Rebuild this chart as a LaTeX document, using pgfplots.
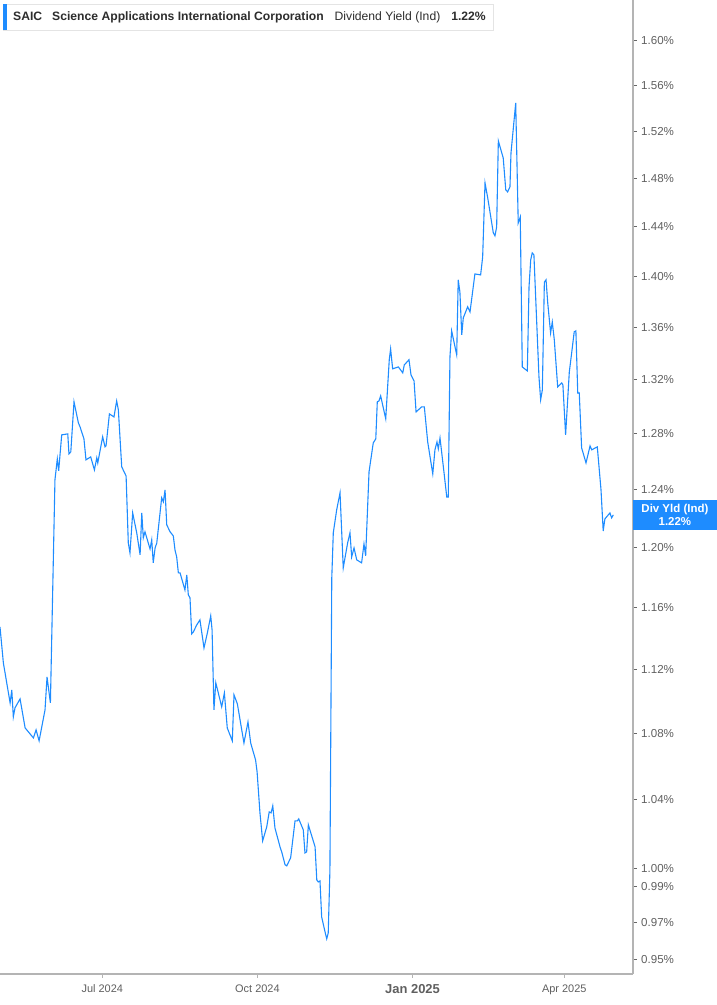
\documentclass[border=0pt]{standalone}
\usepackage{fontspec}
\setmainfont{Liberation Sans}
\usepackage{pgfplots}
\pgfplotsset{compat=1.18}
\definecolor{lineblue}{RGB}{30,140,255}
\definecolor{axgray}{RGB}{180,180,180}
\definecolor{labgray}{RGB}{95,95,95}
\definecolor{titlegray}{RGB}{45,45,45}
\definecolor{boxline}{RGB}{228,228,228}

\begin{document}
\begin{tikzpicture}
\useasboundingbox (0bp,0bp) rectangle (717bp,1005bp);
\begin{semilogyaxis}[
  at={(0bp,31bp)}, anchor=south west,
  scale only axis,
  width=632.7bp, height=974bp,
  xmin=-60.7, xmax=314.6,
  ymin=0.9421, ymax=1.6375,
  axis x line*=bottom, axis y line*=right,
  axis line style={axgray, line width=1.6bp},
  tick align=outside,
  major tick length=4bp,
  xtick={0,92,184,274},
  xticklabels={Jul 2024, Oct 2024, {\fontsize{13}{13}\selectfont\bfseries Jan 2025}, Apr 2025},
  xtick style={axgray, line width=1bp},
  x tick label style={font=\fontsize{11}{11}\selectfont, text=labgray, yshift=-3bp},
  ytick={0.95,0.97,0.99,1.00,1.04,1.08,1.12,1.16,1.20,1.24,1.28,1.32,1.36,1.40,1.44,1.48,1.52,1.56,1.60},
  yticklabels={0.95\%,0.97\%,0.99\%,1.00\%,1.04\%,1.08\%,1.12\%,1.16\%,1.20\%,1.24\%,1.28\%,1.32\%,1.36\%,1.40\%,1.44\%,1.48\%,1.52\%,1.56\%,1.60\%},
  yminorticks=false,
  ytick style={black!60, line width=0.8bp},
  y tick label style={font=\fontsize{11.6}{11.6}\selectfont, text=labgray, xshift=1bp},
  clip=false,
]
% SAIC dividend yield (indicated), x = days from 1 Jul 2024, y in percent
\addplot[color=lineblue, line width=1.1bp, mark=none] coordinates {
(-60.7,1.1472)(-58.7,1.1240)(-54.7,1.0988)(-53.7,1.1069)(-52.8,1.0901)(-51.8,1.0957)(-48.8,1.1013)(-45.8,1.0833)(-40.9,1.0772)(-39.3,1.0821)(-37.5,1.0754)(-34.0,1.0944)(-32.8,1.1151)(-30.8,1.0988)(-28.1,1.2471)(-26.7,1.2620)(-25.9,1.2534)(-24.1,1.2793)(-20.5,1.2800)(-19.8,1.2656)(-18.7,1.2670)(-16.8,1.3035)(-14.2,1.2880)(-13.2,1.2851)(-10.9,1.2764)(-9.7,1.2613)(-6.9,1.2634)(-4.7,1.2541)(-3.3,1.2627)(-2.7,1.2591)(0.2,1.2779)(1.6,1.2706)(2.2,1.2713)(4.2,1.2946)(6.9,1.2924)(8.5,1.3042)(9.5,1.2976)(11.5,1.2563)(14.1,1.2498)(15.4,1.2032)(16.4,1.1964)(18.0,1.2239)(20.4,1.2101)(22.4,1.1951)(23.4,1.2239)(24.3,1.2067)(25.3,1.2108)(28.3,1.1991)(29.3,1.2053)(30.2,1.1897)(31.3,1.1998)(32.3,1.2032)(35.2,1.2344)(36.2,1.2316)(37.2,1.2400)(38.2,1.2156)(40.2,1.2108)(42.1,1.2080)(43.1,1.1984)(44.1,1.1937)(45.1,1.1829)(46.1,1.1829)(49.0,1.1715)(50.1,1.1816)(51.0,1.1683)(52.0,1.1663)(53.0,1.1427)(54.0,1.1440)(56.0,1.1485)(57.9,1.1518)(60.3,1.1336)(62.3,1.1433)(64.3,1.1544)(65.1,1.1452)(66.2,1.0944)(67.3,1.1114)(68.8,1.1050)(70.8,1.0963)(72.4,1.1050)(74.1,1.0833)(77.1,1.0754)(78.1,1.1038)(80.1,1.0982)(84.0,1.0741)(86.4,1.0870)(88.0,1.0741)(90.9,1.0638)(91.8,1.0566)(93.5,1.0323)(95.1,1.0160)(97.5,1.0241)(99.0,1.0329)(100.1,1.0323)(101.1,1.0364)(102.4,1.0235)(105.4,1.0126)(106.4,1.0097)(108.4,1.0023)(109.4,1.0017)(111.7,1.0063)(114.3,1.0276)(115.7,1.0276)(116.5,1.0288)(119.2,1.0224)(120.2,1.0091)(121.2,1.0097)(122.2,1.0253)(126.2,1.0126)(127.2,0.9938)(128.1,0.9926)(129.1,0.9932)(130.1,0.9731)(132.1,0.9649)(133.1,0.9611)(134.0,0.9643)(135.0,0.9994)(136.1,1.1796)(137.0,1.2101)(139.0,1.2260)(141.0,1.2379)(142.9,1.1863)(145.5,1.2032)(146.9,1.2101)(147.9,1.1937)(149.3,1.1998)(150.9,1.1917)(153.8,1.1897)(155.2,1.2025)(156.2,1.1944)(158.2,1.2527)(160.7,1.2735)(162.2,1.2764)(163.1,1.3035)(164.1,1.3042)(165.1,1.3079)(168.1,1.2910)(170.2,1.3350)(171.0,1.3433)(172.2,1.3282)(175.6,1.3296)(178.2,1.3251)(179.1,1.3311)(181.9,1.3350)(183.1,1.3236)(184.9,1.3191)(186.1,1.2961)(189.4,1.2998)(191.0,1.2998)(193.0,1.2742)(196.0,1.2513)(197.3,1.2685)(198.5,1.2742)(199.3,1.2692)(200.3,1.2771)(202.7,1.2520)(204.3,1.2350)(205.2,1.2350)(206.2,1.3372)(207.2,1.3571)(210.2,1.3387)(211.1,1.3970)(212.1,1.3875)(213.2,1.3541)(214.1,1.3671)(216.7,1.3758)(218.1,1.3718)(221.0,1.4017)(224.4,1.4009)(225.6,1.4153)(227.0,1.4760)(228.6,1.4635)(231.9,1.4348)(232.9,1.4323)(233.9,1.4396)(234.9,1.5116)(237.8,1.4970)(239.3,1.4702)(240.4,1.4685)(241.8,1.4727)(242.4,1.5013)(245.2,1.5445)(246.7,1.4428)(247.9,1.4477)(249.1,1.3296)(252.1,1.3266)(253.1,1.3914)(254.1,1.4129)(255.0,1.4185)(256.0,1.4170)(259.0,1.3221)(260.0,1.3050)(261.0,1.3123)(262.2,1.3953)(263.2,1.3970)(264.2,1.3788)(265.9,1.3555)(266.9,1.3640)(268.1,1.3501)(270.1,1.3146)(272.5,1.3176)(273.2,1.3161)(274.8,1.2793)(277.0,1.3259)(278.4,1.3403)(279.9,1.3563)(280.9,1.3571)(282.0,1.3101)(282.9,1.3101)(284.3,1.2699)(286.9,1.2591)(289.3,1.2713)(290.3,1.2685)(293.6,1.2706)(295.8,1.2400)(297.1,1.2114)(298.1,1.2197)(301.1,1.2239)(302.1,1.2204)(303.1,1.2225)
};
% last value tag
\node[fill=lineblue, text=white, font=\fontsize{11.5}{13}\selectfont\bfseries, align=center,
      anchor=west, minimum width=84bp, minimum height=30bp, inner sep=0pt]
  at (axis cs:314.6,1.2225) {Div Yld (Ind)\\1.22\%};
\end{semilogyaxis}
% header box
\draw[boxline, line width=0.8bp, fill=white] (3bp,1001bp) rectangle (493bp,975bp);
\fill[lineblue] (3bp,1001bp) rectangle (6.5bp,975bp);
\node[anchor=base west, inner sep=0pt, text=titlegray, font=\fontsize{12.2}{12.2}\selectfont]
  at (13bp,984bp) {\textbf{SAIC}\hspace{10bp}\textbf{Science Applications International Corporation}\hspace{11bp}Dividend Yield (Ind)\hspace{11bp}\textbf{1.22\%}};
\end{tikzpicture}
\end{document}
